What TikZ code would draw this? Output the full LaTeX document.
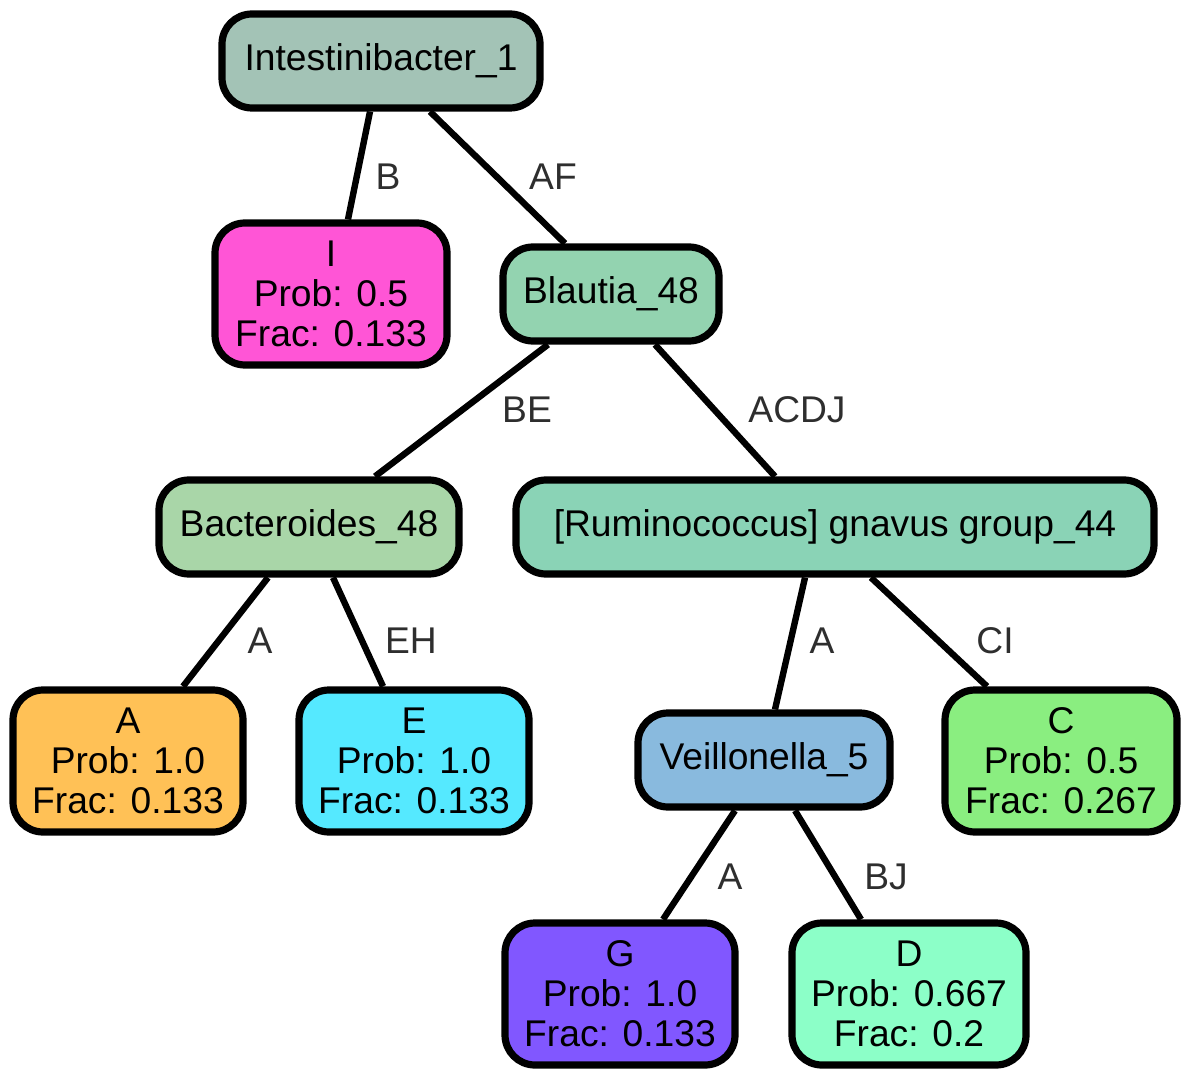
\documentclass[tikz,border=0pt]{standalone}
\usepackage{fontspec}
\setmainfont{Liberation Sans}
\usetikzlibrary{calc,positioning}
\definecolor{intcol}{HTML}{A3C3B6}
\definecolor{icol}{HTML}{FF55D6}
\definecolor{blacol}{HTML}{93D3B0}
\definecolor{baccol}{HTML}{A9D6A8}
\definecolor{rumcol}{HTML}{8AD3B6}
\definecolor{acol}{HTML}{FFC156}
\definecolor{ecol}{HTML}{55E9FF}
\definecolor{veicol}{HTML}{89BADE}
\definecolor{ccol}{HTML}{8AEE80}
\definecolor{gcol}{HTML}{8157FF}
\definecolor{dcol}{HTML}{8CFFC8}
\tikzset{%
	taxon/.style  = {draw, line width=3.6pt, rounded corners=15pt, minimum height=47pt, inner sep=0pt, text centered, font=\fontsize{18.6}{20}\selectfont}, % inner node
	leaf/.style   = {taxon, minimum height=71pt, align=center}, % leaf node
	elabel/.style = {text=black!82, font=\fontsize{18.6}{20}\selectfont}, % edge label
	link/.style   = {line width=3.2pt},
}

\begin{document}
\begin{tikzpicture}[x=0.5pt, y=-0.5pt]
	\useasboundingbox (0,0) rectangle (1192,1079);
	\node[taxon, fill=intcol, minimum width=159pt] (Int) at (381,61) {Intestinibacter\_1};
	\node[leaf, fill=icol, minimum width=116pt] (I) at (331,294) {I\\Prob: 0.5\\Frac: 0.133};
	\node[taxon, fill=blacol, minimum width=108pt] (Bla) at (611,294) {Blautia\_48};
	\node[taxon, fill=baccol, minimum width=150pt] (Bac) at (309,527) {Bacteroides\_48};
	\node[taxon, fill=rumcol, minimum width=319pt] (Rum) at (835,527) {[Ruminococcus] gnavus group\_44};
	\node[leaf, fill=acol, minimum width=115pt] (A) at (128,761) {A\\Prob: 1.0\\Frac: 0.133};
	\node[leaf, fill=ecol, minimum width=115pt] (E) at (414,761) {E\\Prob: 1.0\\Frac: 0.133};
	\node[taxon, fill=veicol, minimum width=126pt] (Vei) at (764,760) {Veillonella\_5};
	\node[leaf, fill=ccol, minimum width=116pt] (C) at (1061,761) {C\\Prob: 0.5\\Frac: 0.267};
	\node[leaf, fill=gcol, minimum width=115pt] (G) at (620,994) {G\\Prob: 1.0\\Frac: 0.133};
	\node[leaf, fill=dcol, minimum width=117pt] (D) at (909,994) {D\\Prob: 0.667\\Frac: 0.2};
	\draw[link] ($(Int.south)+(-11,0)$) -- ($(I.north)+(17,0)$);
	\draw[link] ($(Int.south)+(49,0)$) -- ($(Bla.north)+(-46,0)$);
	\draw[link] ($(Bla.south)+(-63,0)$) -- ($(Bac.north)+(66,0)$);
	\draw[link] ($(Bla.south)+(44,0)$) -- ($(Rum.north)+(-60,0)$);
	\draw[link] ($(Bac.south)+(-41,0)$) -- ($(A.north)+(55,0)$);
	\draw[link] ($(Bac.south)+(24,0)$) -- ($(E.north)+(-31,0)$);
	\draw[link] ($(Rum.south)+(-30,0)$) -- ($(Vei.north)+(11,0)$);
	\draw[link] ($(Rum.south)+(36,0)$) -- ($(C.north)+(-74,0)$);
	\draw[link] ($(Vei.south)+(-29,0)$) -- ($(G.north)+(43,0)$);
	\draw[link] ($(Vei.south)+(31,0)$) -- ($(D.north)+(-48,0)$);
	\node[elabel] (lB) at (388,177) {B};
	\node[elabel] (lAF) at (553,177) {AF};
	\node[elabel] (lBE) at (527,410) {BE};
	\node[elabel] (lACDJ) at (797,410) {ACDJ};
	\node[elabel] (lA1) at (260,641) {A};
	\node[elabel] (lEH) at (411,641) {EH};
	\node[elabel] (lA2) at (822,641) {A};
	\node[elabel] (lCI) at (995,641) {CI};
	\node[elabel] (lA3) at (730,877) {A};
	\node[elabel] (lBJ) at (886,877) {BJ};
\end{tikzpicture}
\end{document}
